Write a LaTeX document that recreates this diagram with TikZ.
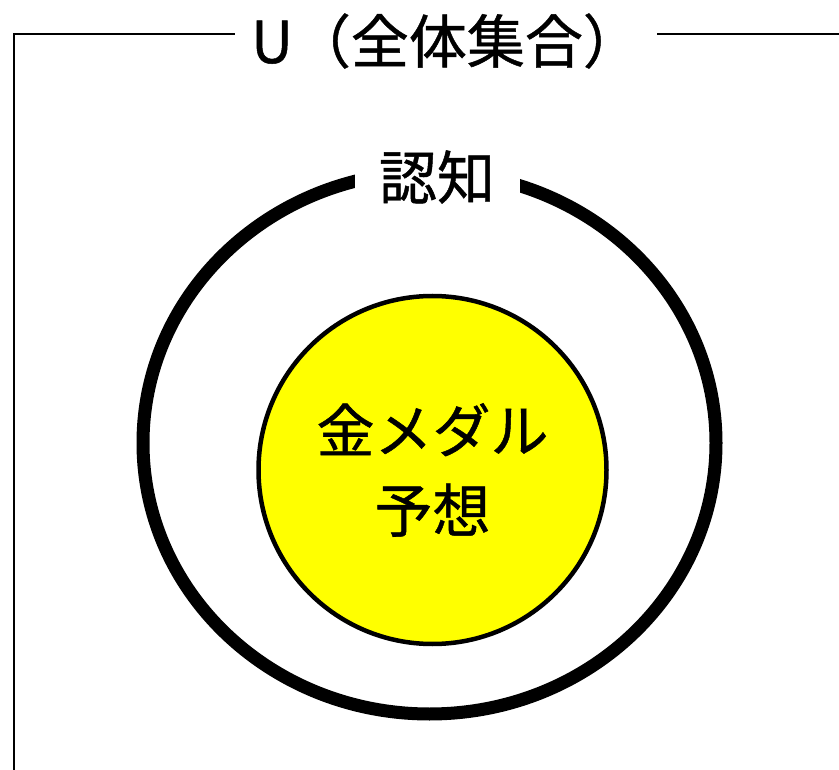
\documentclass[tikz,border=0pt]{standalone}
\usepackage{fontspec}
\usepackage{tikz}
\usetikzlibrary{shapes.geometric}
\newfontfamily\jpfont[FakeBold=0.8]{Noto Sans CJK JP}
\definecolor{setyellow}{RGB}{255,255,0}

\tikzset{
  setlabel/.style={font=\jpfont\fontsize{58}{80}\selectfont,fill=white,inner sep=0pt},
  setedge/.style={draw,line width=#1},
}

\begin{document}
\begin{tikzpicture}[x=1pt,y=-1pt]
\useasboundingbox (0,0) rectangle (839,770);

\node [setlabel,minimum width=422] (v1) at (446,41) {U（全体集合）};
\coordinate (c1) at (14,770);
\coordinate (c2) at (839,34);
\draw [line width=2.3] (c2) -- (v1.east |- c2);
\draw [line width=2.3] (v1.west |- c2) -| (c1);

\node [ellipse,setedge=13,minimum width=573,minimum height=542,inner sep=0pt] (v2) at (429.5,443) {};
\node [setlabel,minimum width=165] (v3) at (437,177) {認知};

\node [circle,setedge=4.5,fill=setyellow,minimum size=348,inner sep=0pt,align=center,
       font=\jpfont\fontsize{58}{80}\selectfont] (v4) at (432.5,470) {金メダル\\予想};
\end{tikzpicture}
\end{document}
